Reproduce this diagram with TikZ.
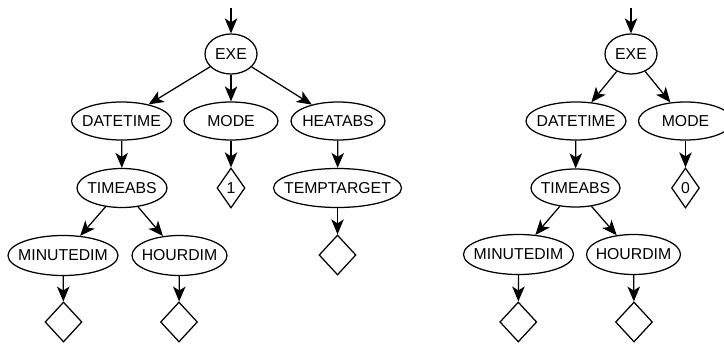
\documentclass[tikz,border=0pt]{standalone}
\usepackage{fontspec}
\setmainfont{Liberation Sans}
\usetikzlibrary{shapes.geometric,arrows.meta}
\tikzset{
  ell/.style={draw, ellipse, inner sep=0pt, line width=1.25pt, font=\fontsize{15.8}{18}\selectfont},
  dia/.style={draw, diamond, inner sep=0pt, line width=1.25pt, font=\fontsize{15.8}{18}\selectfont},
  arr/.style={line width=1.25pt, -{Stealth[length=15pt,width=12.5pt,inset=4pt]}},
}
\newcommand{\zt}[1]{\makebox[0pt]{#1}}
\begin{document}
\begin{tikzpicture}[x=1pt,y=-1pt]
\useasboundingbox (0,0) rectangle (724,345);
\clip (0,0) rectangle (724,345);
% left tree
\coordinate (inL) at (231,8);
\node[ell, minimum width=52pt, minimum height=40pt] (exeL) at (231,54) {\zt{EXE}};
\node[ell, minimum width=100pt, minimum height=38pt] (dtL) at (121.5,121) {\zt{DATETIME}};
\node[ell, minimum width=94pt, minimum height=38pt] (modeL) at (231,121) {\zt{MODE}};
\node[ell, minimum width=94pt, minimum height=38pt] (heatL) at (338,121) {\zt{HEATABS}};
\node[ell, minimum width=90pt, minimum height=39pt] (timeL) at (122,188) {\zt{TIMEABS}};
\node[dia, minimum width=28pt, minimum height=40pt] (d1) at (231,188) {\zt{1}};
\node[ell, minimum width=128pt, minimum height=39pt] (tempL) at (337.5,188) {\zt{TEMPTARGET}};
\node[ell, minimum width=110pt, minimum height=40pt] (minL) at (63,255.5) {\zt{MINUTEDIM}};
\node[ell, minimum width=95pt, minimum height=40pt] (hourL) at (179.5,255.5) {\zt{HOURDIM}};
\node[dia, minimum width=37pt, minimum height=40pt] (dminL) at (63.5,322) {};
\node[dia, minimum width=37pt, minimum height=40pt] (dhourL) at (179,322) {};
\node[dia, minimum width=37pt, minimum height=40pt] (dtempL) at (337.5,255) {};
\draw[arr] (inL) -- (exeL);
\draw[arr] (exeL) -- (dtL);
\draw[arr] (exeL) -- (modeL);
\draw[arr] (exeL) -- (heatL);
\draw[arr] (dtL) -- (timeL);
\draw[arr] (modeL) -- (d1);
\draw[arr] (heatL) -- (tempL);
\draw[arr] (timeL) -- (minL);
\draw[arr] (timeL) -- (hourL);
\draw[arr] (minL) -- (dminL);
\draw[arr] (hourL) -- (dhourL);
\draw[arr] (tempL) -- (dtempL);
% right tree
\coordinate (inR) at (631,8);
\node[ell, minimum width=52pt, minimum height=40pt] (exeR) at (631,54) {\zt{EXE}};
\node[ell, minimum width=100pt, minimum height=38pt] (dtR) at (576,121) {\zt{DATETIME}};
\node[ell, minimum width=94pt, minimum height=38pt] (modeR) at (685.5,121) {\zt{MODE}};
\node[ell, minimum width=89pt, minimum height=38pt] (timeR) at (575.5,188) {\zt{TIMEABS}};
\node[dia, minimum width=28pt, minimum height=40pt] (d0) at (685.5,188) {\zt{0}};
\node[ell, minimum width=110pt, minimum height=40pt] (minR) at (518.5,254.5) {\zt{MINUTEDIM}};
\node[ell, minimum width=94pt, minimum height=40pt] (hourR) at (633.5,254.5) {\zt{HOURDIM}};
\node[dia, minimum width=37pt, minimum height=40pt] (dminR) at (518.3,322) {};
\node[dia, minimum width=37pt, minimum height=40pt] (dhourR) at (634,322) {};
\draw[arr] (inR) -- (exeR);
\draw[arr] (exeR) -- (dtR);
\draw[arr] (exeR) -- (modeR);
\draw[arr] (dtR) -- (timeR);
\draw[arr] (modeR) -- (d0);
\draw[arr] (timeR) -- (minR);
\draw[arr] (timeR) -- (hourR);
\draw[arr] (minR) -- (dminR);
\draw[arr] (hourR) -- (dhourR);
\end{tikzpicture}
\end{document}
